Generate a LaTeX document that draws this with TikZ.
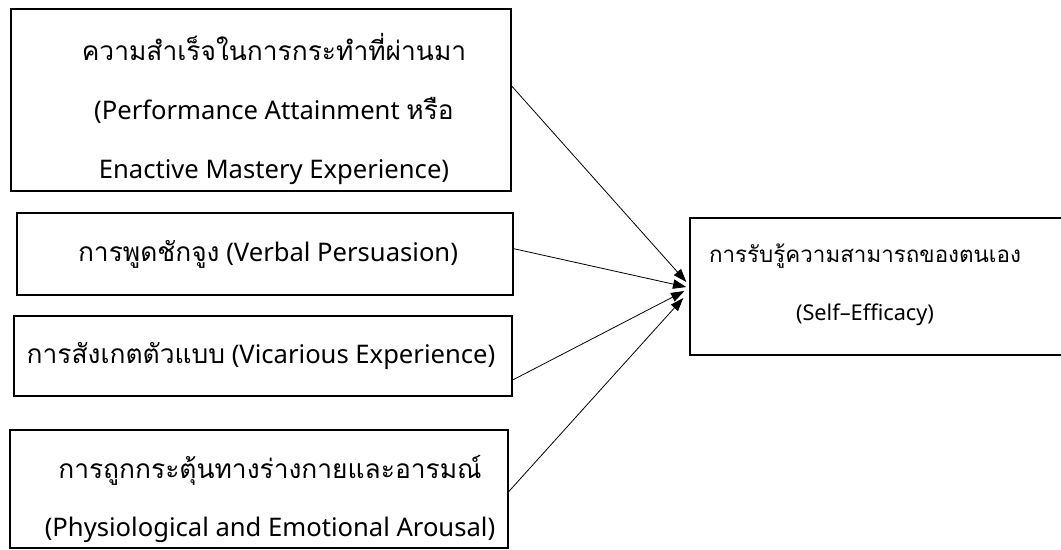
\documentclass[tikz,border=0pt]{standalone}
\usepackage{fontspec}
\setmainfont{Noto Sans}
\newfontfamily\thaifont[Script=Thai, Scale=1.03]{Loma}
\newcommand{\thai}[1]{{\thaifont #1}}
\usetikzlibrary{arrows.meta, positioning}
\tikzset{
    factor/.style={rectangle, draw=black, line width=1pt, inner sep=0pt},
    caption/.style={align=center, inner sep=0pt, font=\fontsize{19.2}{44}\selectfont},
    smallcaption/.style={align=center, inner sep=0pt, font=\fontsize{16.3}{43.5}\selectfont},
    arrow/.style={-{Triangle[length=10pt, width=7pt]}, line width=0.6pt, color=black}
}

\begin{document}
\begin{tikzpicture}[x=0.75pt, y=-0.75pt]
    \useasboundingbox (0,0) rectangle (1061,550);

    % Sources of self-efficacy
    \node (mastery) [factor, minimum width=375pt, minimum height=136.5pt] at (261,100) {};
    \node (verbal) [factor, minimum width=372pt, minimum height=61.5pt] at (265,254) {};
    \node (vicarious) [factor, minimum width=373.5pt, minimum height=60pt] at (263,356) {};
    \node (arousal) [factor, minimum width=373.5pt, minimum height=88.5pt] at (259,489) {};

    \node (masterytext) [caption] at (274,109) {\thai{ความสำเร็จในการกระทำที่ผ่านมา}\\(Performance Attainment \thai{หรือ}\\Enactive Mastery Experience)};
    \node (verbaltext) [caption] at (268,254) {\thai{การพูดชักจูง} (Verbal Persuasion)};
    \node (vicarioustext) [caption] at (261,356) {\thai{การสังเกตตัวแบบ} (Vicarious Experience)};
    \node (arousaltext) [caption] at (270,499) {\thai{การถูกกระตุ้นทางร่างกายและอารมณ์}\\(Physiological and Emotional Arousal)};

    % Outcome
    \node (efficacy) [factor, minimum width=285pt, minimum height=102.75pt] at (880,286.5) {};
    \node (efficacytext) [smallcaption] at (865,285) {\thai{การรับรู้ความสามารถของตนเอง}\\(Self–Efficacy)};

    % Arrow tips
    \coordinate (tipA) at ([xshift=-2.25pt, yshift=3.4pt]efficacy.west);
    \coordinate (tipB) at ([xshift=-2.25pt, yshift=-0.4pt]efficacy.west);
    \coordinate (tipC) at ([xshift=-3.75pt, yshift=-3.4pt]efficacy.west);
    \coordinate (tipD) at ([xshift=-4.5pt, yshift=-8.6pt]efficacy.west);

    % Paths
    \draw [arrow] ([yshift=10.5pt]mastery.east) -- (tipA);
    \draw [arrow] ([yshift=4pt]verbal.east) -- (tipB);
    \draw [arrow] ([yshift=-18pt]vicarious.east) -- (tipC);
    \draw [arrow] ([yshift=-2pt]arousal.east) -- (tipD);

\end{tikzpicture}
\end{document}
